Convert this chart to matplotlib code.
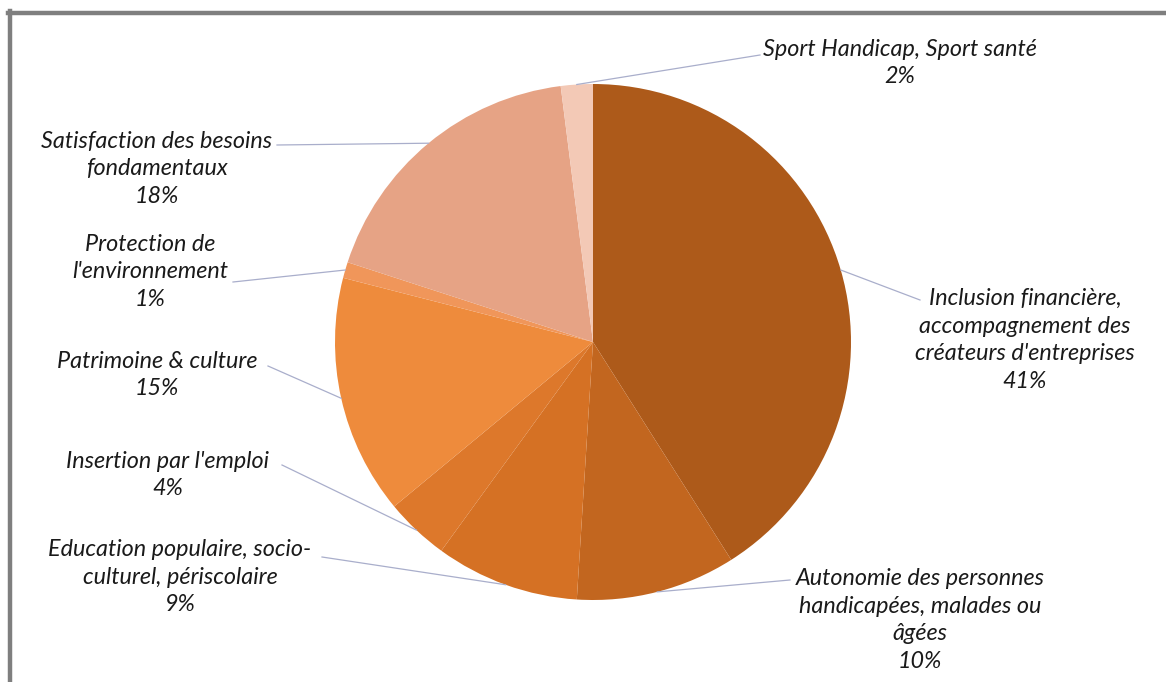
import numpy as np
import matplotlib
matplotlib.use("Agg")
import matplotlib.pyplot as plt
from matplotlib.lines import Line2D

# Data
categories = [
    "Inclusion financière,\naccompagnement des\ncréateurs d'entreprises",
    "Autonomie des personnes\nhandicapées, malades ou\nâgées",
    "Education populaire, socio-\nculturel, périscolaire",
    "Insertion par l'emploi",
    "Patrimoine & culture",
    "Protection de\nl'environnement",
    "Satisfaction des besoins\nfondamentaux",
    "Sport Handicap, Sport santé",
]
values = [41, 10, 9, 4, 15, 1, 18, 2]
colors = ["#AD5A1A", "#C2661F", "#D57124", "#DD782B", "#EE8B3C",
          "#F0965A", "#E6A385", "#F3C9B6"]

# label text anchor positions (pixels from top-left) - layout
label_pos = [(1025, 340), (920, 620), (180, 577), (168, 475), (157, 375),
             (150, 272), (157, 169), (900, 63)]
line_end = [(920, 300), (790, 580), (322, 557), (282, 465), (268, 366),
            (233, 282), (277, 145), (760, 55)]

W, H = 1166, 682
fig = plt.figure(figsize=(W / 100, H / 100), dpi=100)
ax = fig.add_axes([0, 0, 1, 1])
ax.set_xlim(0, W)
ax.set_ylim(0, H)
ax.set_aspect("equal")
ax.axis("off")

cx, cy, r = 593, H - 342, 258
wedges, _ = ax.pie(values, colors=colors, startangle=90, counterclock=False,
                   center=(cx, cy), radius=r, frame=True,
                   wedgeprops=dict(linewidth=0))
ax.set_xlim(0, W)
ax.set_ylim(0, H)
ax.axis("off")

font = dict(family=["Lato", "DejaVu Sans"], style="italic", size=16.8, color="#1A1A1A")

for w, lab, v, (tx, ty), (lx, ly) in zip(wedges, categories, values, label_pos, line_end):
    mid = np.deg2rad((w.theta1 + w.theta2) / 2)
    px, py = cx + r * np.cos(mid), cy + r * np.sin(mid)
    ax.plot([px, lx], [py, H - ly], color="#A9AECB", lw=0.9, zorder=1)
    ax.text(tx, H - ty, f"{lab}\n{v}%", ha="center", va="center",
            linespacing=1.4, **font)

# frame (top and left borders)
fig.add_artist(Line2D([8 / W, 1], [1 - 13 / H, 1 - 13 / H], color="#7F7F7F", lw=3.2,
                      transform=fig.transFigure))
fig.add_artist(Line2D([10 / W, 10 / W], [1 - 11 / H, 0], color="#7F7F7F", lw=3.2,
                      transform=fig.transFigure))

fig.savefig("out.png", dpi=100, facecolor="white")
